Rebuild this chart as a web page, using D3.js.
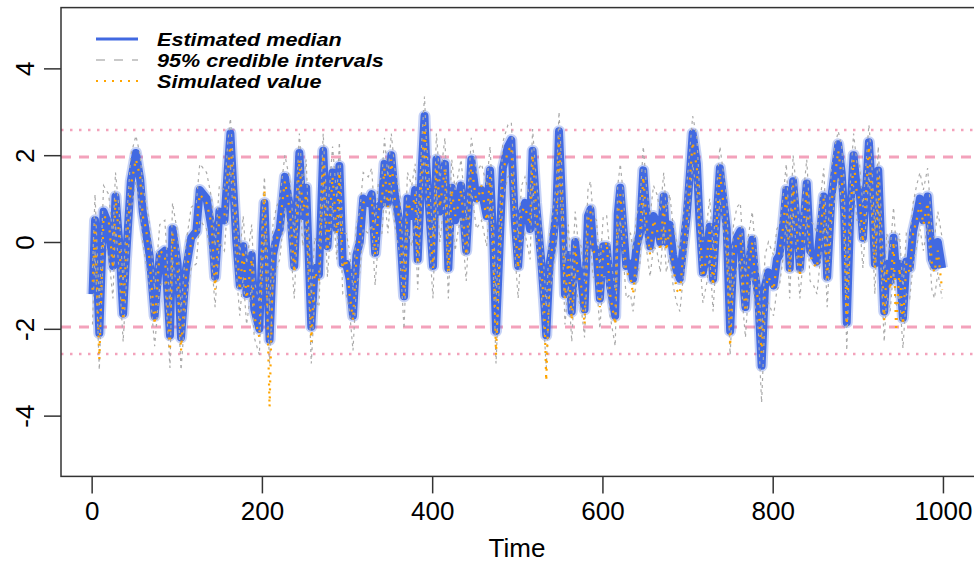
<!DOCTYPE html>
<html>
<head>
<meta charset="utf-8">
<script src="https://cdn.jsdelivr.net/npm/d3@7/dist/d3.min.js"></script>
<style>
  body { margin: 0; background: #fff; }
  text { font-family: "Liberation Sans", Arial, Helvetica, sans-serif; fill: #000; }
</style>
</head>
<body>
<svg width="974" height="563"></svg>
<script>
// values (band peaks / troughs)
var time = [1,4,9,14,20,25,28,32,37,40,46,52,57,60,64,68,74,80,86,92,95,101,105,111,117,123,127,135,141,145,150,156,160,163,166,170,174,178,182,188,191,197,201,203,209,213,217,221,227,233,238,244,248,252,258,262,267,272,277,283,288,291,295,299,303,307,311,315,319,325,329,333,337,341,344,348,352,356,362,367,371,376,380,383,388,391,393,397,401,405,409,415,419,423,427,430,434,440,446,452,458,464,468,472,475,479,483,489,493,497,501,505,509,515,518,522,528,532,534,538,542,546,549,553,556,560,564,568,571,575,579,583,586,589,593,597,601,605,609,615,618,621,624,628,633,636,640,644,648,652,656,660,664,668,672,675,679,683,687,691,695,699,703,706,711,714,718,723,726,730,734,738,742,746,750,754,758,762,765,768,771,776,779,783,787,791,795,801,805,808,812,816,820,824,828,832,836,840,844,848,852,856,860,864,869,873,877,881,884,887,891,895,899,902,906,910,913,916,920,924,928,931,934,938,942,945,949,953,957,961,965,969,973,977,982,987,990,994,999];

var median = [-1.2,0.5,-2.1,0.7,0.4,-0.55,1.05,0.1,-1.65,-0.5,1.4,2.05,1.45,0.7,0.2,-0.3,-1.7,-0.3,-0.2,-2.15,0.3,-0.5,-2.2,-0.6,0.1,0.25,1.2,1.0,0.3,-0.8,0.7,0.5,1.7,2.5,1.4,0.0,-1.0,-0.1,-1.2,-0.3,-1.55,-2.0,0.2,0.9,-2.25,-0.3,0.1,0.3,1.5,0.8,-0.55,2.05,0.6,1.25,-1.95,-0.6,-0.75,2.1,-0.1,1.6,0.3,1.75,-0.5,-0.5,-0.85,-1.7,-0.3,0.0,1.0,0.9,1.1,-0.25,0.8,0.9,1.8,0.9,2.0,1.1,0.4,-1.25,1.0,0.6,1.2,-0.4,1.8,2.9,1.8,0.6,-0.55,1.9,0.7,1.8,-0.6,1.25,0.5,0.9,1.3,-0.2,1.9,1.0,1.2,0.6,1.65,-0.1,-2.05,-0.2,1.7,2.2,2.35,0.5,-0.55,0.65,0.9,0.3,2.1,0.9,-0.4,-1.5,-2.15,-0.5,0.0,0.8,2.55,0.7,-1.2,-0.3,-1.6,0.0,-0.6,-0.8,-1.55,0.6,0.75,-0.1,-0.2,-1.3,-0.1,-0.1,-1.0,-1.7,0.65,1.25,0.5,-0.55,-0.5,-0.85,-0.1,0.2,1.65,0.5,-0.1,0.6,0.45,0.0,1.05,0.0,0.4,-0.3,-0.65,-0.85,-0.1,0.6,1.65,2.5,1.8,0.5,-0.7,-0.2,0.35,-0.85,0.5,1.7,1.0,0.3,-2.05,-0.25,0.1,0.25,-0.8,-1.5,-0.6,0.05,-0.7,-1.25,-2.85,-1.0,-0.7,-1.0,-0.4,-0.3,0.35,1.2,-0.6,1.4,0.5,-0.6,0.4,1.35,-0.2,-0.3,-0.45,0.3,1.05,-0.8,1.05,1.65,2.25,1.6,0.7,-1.85,0.6,2.0,1.2,1.2,0.1,1.3,2.3,1.4,-0.5,1.65,-0.3,-1.6,-0.5,-0.9,0.1,-0.75,-0.5,-1.75,-0.45,-0.6,0.25,0.6,1.0,0.5,1.05,-0.4,-0.55,0.0,-0.6];

var lower = [-1.9,-0.2,-2.95,0.0,-0.3,-1.3,0.4,-0.6,-2.3,-1.2,0.7,1.4,0.8,0.0,-0.5,-1.0,-2.4,-1.0,-0.9,-2.9,-0.4,-1.2,-2.95,-1.3,-0.6,-0.5,0.5,0.3,-0.4,-1.5,0.0,-0.2,1.0,1.8,0.7,-0.7,-1.7,-0.8,-1.9,-1.0,-2.2,-2.6,-0.5,0.2,-2.8,-1.0,-0.6,-0.4,0.8,0.1,-1.3,1.3,-0.1,0.5,-2.8,-1.3,-1.5,1.4,-0.8,0.9,-0.4,1.0,-1.2,-1.2,-1.6,-2.5,-1.0,-0.7,0.3,0.2,0.4,-1.0,0.1,0.2,1.1,0.2,1.3,0.4,-0.3,-2.0,0.3,-0.1,0.5,-1.1,1.1,2.2,1.1,-0.1,-1.3,1.2,0.0,1.1,-1.3,0.5,-0.2,0.2,0.6,-0.9,1.2,0.3,0.5,-0.1,1.0,-0.8,-2.8,-0.9,1.0,1.5,1.6,-0.2,-1.3,0.0,0.2,-0.4,1.4,0.2,-1.1,-2.2,-2.9,-1.2,-0.7,0.1,1.8,0.0,-1.9,-1.0,-2.3,-0.7,-1.3,-1.5,-2.2,-0.1,0.0,-0.8,-0.9,-2.0,-0.8,-0.8,-1.7,-2.4,0.0,0.5,-0.2,-1.3,-1.2,-1.6,-0.8,-0.5,1.0,-0.2,-0.8,-0.1,-0.2,-0.7,0.4,-0.7,-0.3,-1.0,-1.4,-1.6,-0.8,-0.1,1.0,1.8,1.1,-0.2,-1.4,-0.9,-0.3,-1.6,-0.2,1.0,0.3,-0.4,-2.6,-1.0,-0.6,-0.4,-1.5,-2.2,-1.3,-0.7,-1.4,-2.0,-3.7,-1.7,-1.4,-1.7,-1.1,-1.0,-0.4,0.5,-1.3,0.7,-0.2,-1.3,-0.3,0.6,-0.9,-1.0,-1.2,-0.4,0.4,-1.5,0.4,1.0,1.5,0.9,0.0,-2.5,-0.1,1.3,0.5,0.5,-0.6,0.6,1.6,0.7,-1.2,1.0,-1.0,-2.3,-1.2,-1.6,-0.6,-1.5,-1.2,-2.45,-1.2,-1.3,-0.5,-0.1,0.3,-0.2,0.4,-1.1,-1.3,-0.7,-1.3];

var upper = [-0.6,1.1,-1.5,1.3,1.1,0.1,1.6,0.8,-1.0,0.2,2.0,2.45,2.0,1.3,0.9,0.4,-1.1,0.4,0.5,-1.5,0.9,0.2,-1.6,0.0,0.8,0.9,1.8,1.6,1.0,-0.1,1.3,1.2,2.3,2.85,2.0,0.7,-0.3,0.6,-0.5,0.4,-0.9,-1.4,0.9,1.5,-1.6,0.4,0.8,1.0,2.0,1.4,0.1,2.5,1.3,1.9,-1.3,0.1,-0.1,2.5,0.6,2.2,1.0,2.3,0.2,0.2,-0.2,-1.1,0.4,0.7,1.6,1.5,1.7,0.4,1.4,1.5,2.4,1.5,2.5,1.7,1.1,-0.6,1.6,1.3,1.8,0.3,2.4,3.35,2.4,1.3,0.1,2.5,1.4,2.4,0.1,1.9,1.2,1.5,1.9,0.5,2.4,1.6,1.8,1.3,2.2,0.6,-1.4,0.5,2.3,2.7,2.75,1.2,0.1,1.3,1.5,1.0,2.6,1.5,0.3,-0.8,-1.5,0.2,0.7,1.4,3.0,1.4,-0.5,0.4,-0.9,0.7,0.1,-0.1,-0.9,1.2,1.4,0.6,0.5,-0.6,0.6,0.6,-0.3,-1.1,1.3,1.8,1.2,0.1,0.2,-0.2,0.6,0.9,2.2,1.2,0.6,1.3,1.1,0.7,1.6,0.7,1.1,0.4,0.0,-0.2,0.6,1.3,2.2,2.9,2.4,1.2,0.0,0.5,1.0,-0.2,1.2,2.2,1.6,1.0,-1.4,0.4,0.8,0.9,-0.1,-0.8,0.1,0.7,0.0,-0.6,-2.2,-0.3,0.0,-0.3,0.3,0.4,1.0,1.8,0.1,2.0,1.2,0.1,1.1,1.9,0.5,0.4,0.2,1.0,1.7,-0.1,1.7,2.2,2.55,2.2,1.4,-1.2,1.3,2.5,1.8,1.8,0.8,1.9,2.7,2.0,0.2,2.2,0.4,-0.9,0.2,-0.2,0.8,-0.1,0.2,-1.1,0.2,0.1,0.9,1.3,1.6,1.2,1.7,0.3,0.1,0.7,0.1];

var simulated = [-1.1,0.4,-2.7,0.6,0.5,-0.6,1.0,0.2,-1.8,-0.4,1.3,1.9,1.5,0.6,0.3,-0.4,-1.9,-0.2,-0.3,-2.5,0.2,-0.6,-2.5,-0.7,0.0,0.3,1.1,0.9,0.4,-1.1,0.6,0.6,1.6,2.3,1.5,0.1,-1.1,-0.2,-1.3,-0.4,-1.7,-2.2,0.3,1.2,-3.8,-0.5,0.0,0.4,1.4,0.7,-0.7,1.9,0.7,1.1,-2.3,-0.7,-0.9,2.0,-0.2,1.5,0.2,1.6,-0.6,-0.4,-1.2,-1.8,-0.4,0.1,0.9,1.0,1.0,-0.3,0.7,1.0,1.7,0.8,1.9,1.0,0.5,-1.3,0.9,0.7,1.1,-0.5,1.7,2.7,1.9,0.5,-0.6,1.8,0.8,1.7,-0.7,1.2,0.6,0.8,1.2,-0.3,1.8,0.9,1.3,0.5,1.5,-0.2,-2.6,-0.3,1.6,2.1,2.2,0.4,-0.6,0.7,0.8,0.4,2.0,0.8,-0.5,-1.7,-3.2,-0.7,0.1,0.7,2.4,0.6,-1.3,-0.4,-1.8,-0.1,-0.7,-1.0,-1.9,0.5,0.7,-0.2,-0.3,-1.5,-0.2,0.0,-1.2,-1.9,0.6,1.1,0.4,-0.7,-0.8,-1.2,-0.3,0.1,1.5,0.4,-0.3,0.5,0.3,-0.2,0.9,-0.2,0.3,-0.5,-1.1,-1.2,-0.2,0.5,1.5,2.3,1.7,0.4,-0.8,-0.3,0.3,-1.0,0.4,1.6,0.9,0.2,-2.4,-0.3,0.0,0.2,-0.9,-1.6,-0.7,0.0,-0.8,-1.4,-2.55,-1.1,-0.8,-1.1,-0.5,-0.2,0.3,1.1,-0.7,1.3,0.4,-0.8,0.3,1.2,-0.3,-0.5,-0.6,0.2,1.0,-0.9,0.9,1.5,2.1,1.5,0.6,-1.9,0.5,1.9,1.1,1.0,0.0,1.2,2.2,1.3,-0.6,1.5,-0.4,-1.8,-0.6,-1.1,0.0,-2.05,-0.6,-1.9,-0.5,-0.7,0.2,0.5,0.9,0.4,0.9,-0.5,-0.7,-0.2,-1.1];

var xTicks = [0, 200, 400, 600, 800, 1000];
var yTicks = [-4, -2, 0, 2, 4];
var dashedLevels = [-1.96, 1.96];
var dottedLevels = [-2.58, 2.58];
var legendLabels = ["Estimated median", "95% credible intervals", "Simulated value"];

var svg = d3.select("svg");

// scales (R style 4% padding, right edge falls off the picture)
var x = d3.scaleLinear().domain([-36, 1040]).range([61, 977]);
var y = d3.scaleLinear().domain([-5.4, 5.4]).range([476.4, 7.6]);

svg.append("defs").append("clipPath")
    .attr("id", "clip")
  .append("rect")
    .attr("x", 61).attr("y", 7.6)
    .attr("width", 916).attr("height", 468.8);

var plot = svg.append("g").attr("clip-path", "url(#clip)");

// reference lines
plot.selectAll(".dashed").data(dashedLevels).enter().append("line")
    .attr("x1", 61).attr("x2", 977)
    .attr("y1", d => y(d)).attr("y2", d => y(d))
    .attr("stroke", "#f3a2bb").attr("stroke-width", 3)
    .attr("stroke-dasharray", "10,8");

plot.selectAll(".dotted").data(dottedLevels).enter().append("line")
    .attr("x1", 61).attr("x2", 977)
    .attr("y1", d => y(d)).attr("y2", d => y(d))
    .attr("stroke", "#f3a2bb").attr("stroke-width", 2.5)
    .attr("stroke-dasharray", "2.5,6.5");

var line = d3.line()
    .x((d, i) => x(time[i]))
    .y(d => y(d));

// median: soft halo then the thick band
plot.append("path").datum(median)
    .attr("d", line)
    .attr("fill", "none")
    .attr("stroke", "#4169e1").attr("stroke-opacity", 0.3)
    .attr("stroke-width", 12)
    .attr("stroke-linejoin", "round");

plot.append("path").datum(median)
    .attr("d", line)
    .attr("fill", "none")
    .attr("stroke", "#4169e1")
    .attr("stroke-width", 8)
    .attr("stroke-linejoin", "round");

[lower, upper].forEach(function(s) {
  plot.append("path").datum(s)
      .attr("d", line)
      .attr("fill", "none")
      .attr("stroke", "#aaaaaa")
      .attr("stroke-width", 1.2)
      .attr("stroke-dasharray", "3,4");
});

plot.append("path").datum(simulated)
    .attr("d", line)
    .attr("fill", "none")
    .attr("stroke", "#ffa500")
    .attr("stroke-width", 2.2)
    .attr("stroke-dasharray", "2,6");

// box
svg.append("rect")
    .attr("x", 61).attr("y", 7.6)
    .attr("width", 916).attr("height", 468.8)
    .attr("fill", "none")
    .attr("stroke", "#333").attr("stroke-width", 1.5);

// axes
var gX = svg.append("g")
    .attr("transform", "translate(0," + 476.4 + ")")
    .call(d3.axisBottom(x).tickValues(xTicks).tickSize(17).tickPadding(8).tickFormat(d => String(d)));

var gY = svg.append("g")
    .attr("transform", "translate(61,0)")
    .call(d3.axisLeft(y).tickValues(yTicks).tickSize(17).tickFormat(d => String(d)));

[gX, gY].forEach(function(g) {
  g.select(".domain").remove();
  g.selectAll(".tick line").attr("stroke", "#333").attr("stroke-width", 1.5);
  g.selectAll("text").attr("font-size", 26).attr("font-family", null).style("fill", "#000");
});

gY.selectAll(".tick text")
    .attr("x", 0).attr("dy", null)
    .attr("text-anchor", "middle")
    .attr("transform", "translate(-27,0) rotate(-90)");

svg.append("text")
    .attr("x", 517).attr("y", 557)
    .attr("text-anchor", "middle")
    .attr("font-size", 26)
    .text("Time");

// legend
var legend = svg.append("g");
var rows = [39, 60, 81];

legend.append("line")
    .attr("x1", 96).attr("x2", 138).attr("y1", rows[0]).attr("y2", rows[0])
    .attr("stroke", "#4169e1").attr("stroke-width", 3);
legend.append("line")
    .attr("x1", 96).attr("x2", 138).attr("y1", rows[1]).attr("y2", rows[1])
    .attr("stroke", "#b8b8b8").attr("stroke-width", 1.5).attr("stroke-dasharray", "9,9");
legend.append("line")
    .attr("x1", 96).attr("x2", 138).attr("y1", rows[2]).attr("y2", rows[2])
    .attr("stroke", "#ffa500").attr("stroke-width", 2).attr("stroke-dasharray", "2,6");

// text is wide and short in the picture, so stretch it sideways
legend.selectAll(".lab").data(legendLabels).enter().append("text")
    .attr("transform", (d, i) => "translate(157," + (rows[i] + 6.5) + ") scale(1.2,1)")
    .attr("font-size", 18)
    .attr("font-weight", "bold")
    .attr("font-style", "italic")
    .text(d => d);
</script>
</body>
</html>
